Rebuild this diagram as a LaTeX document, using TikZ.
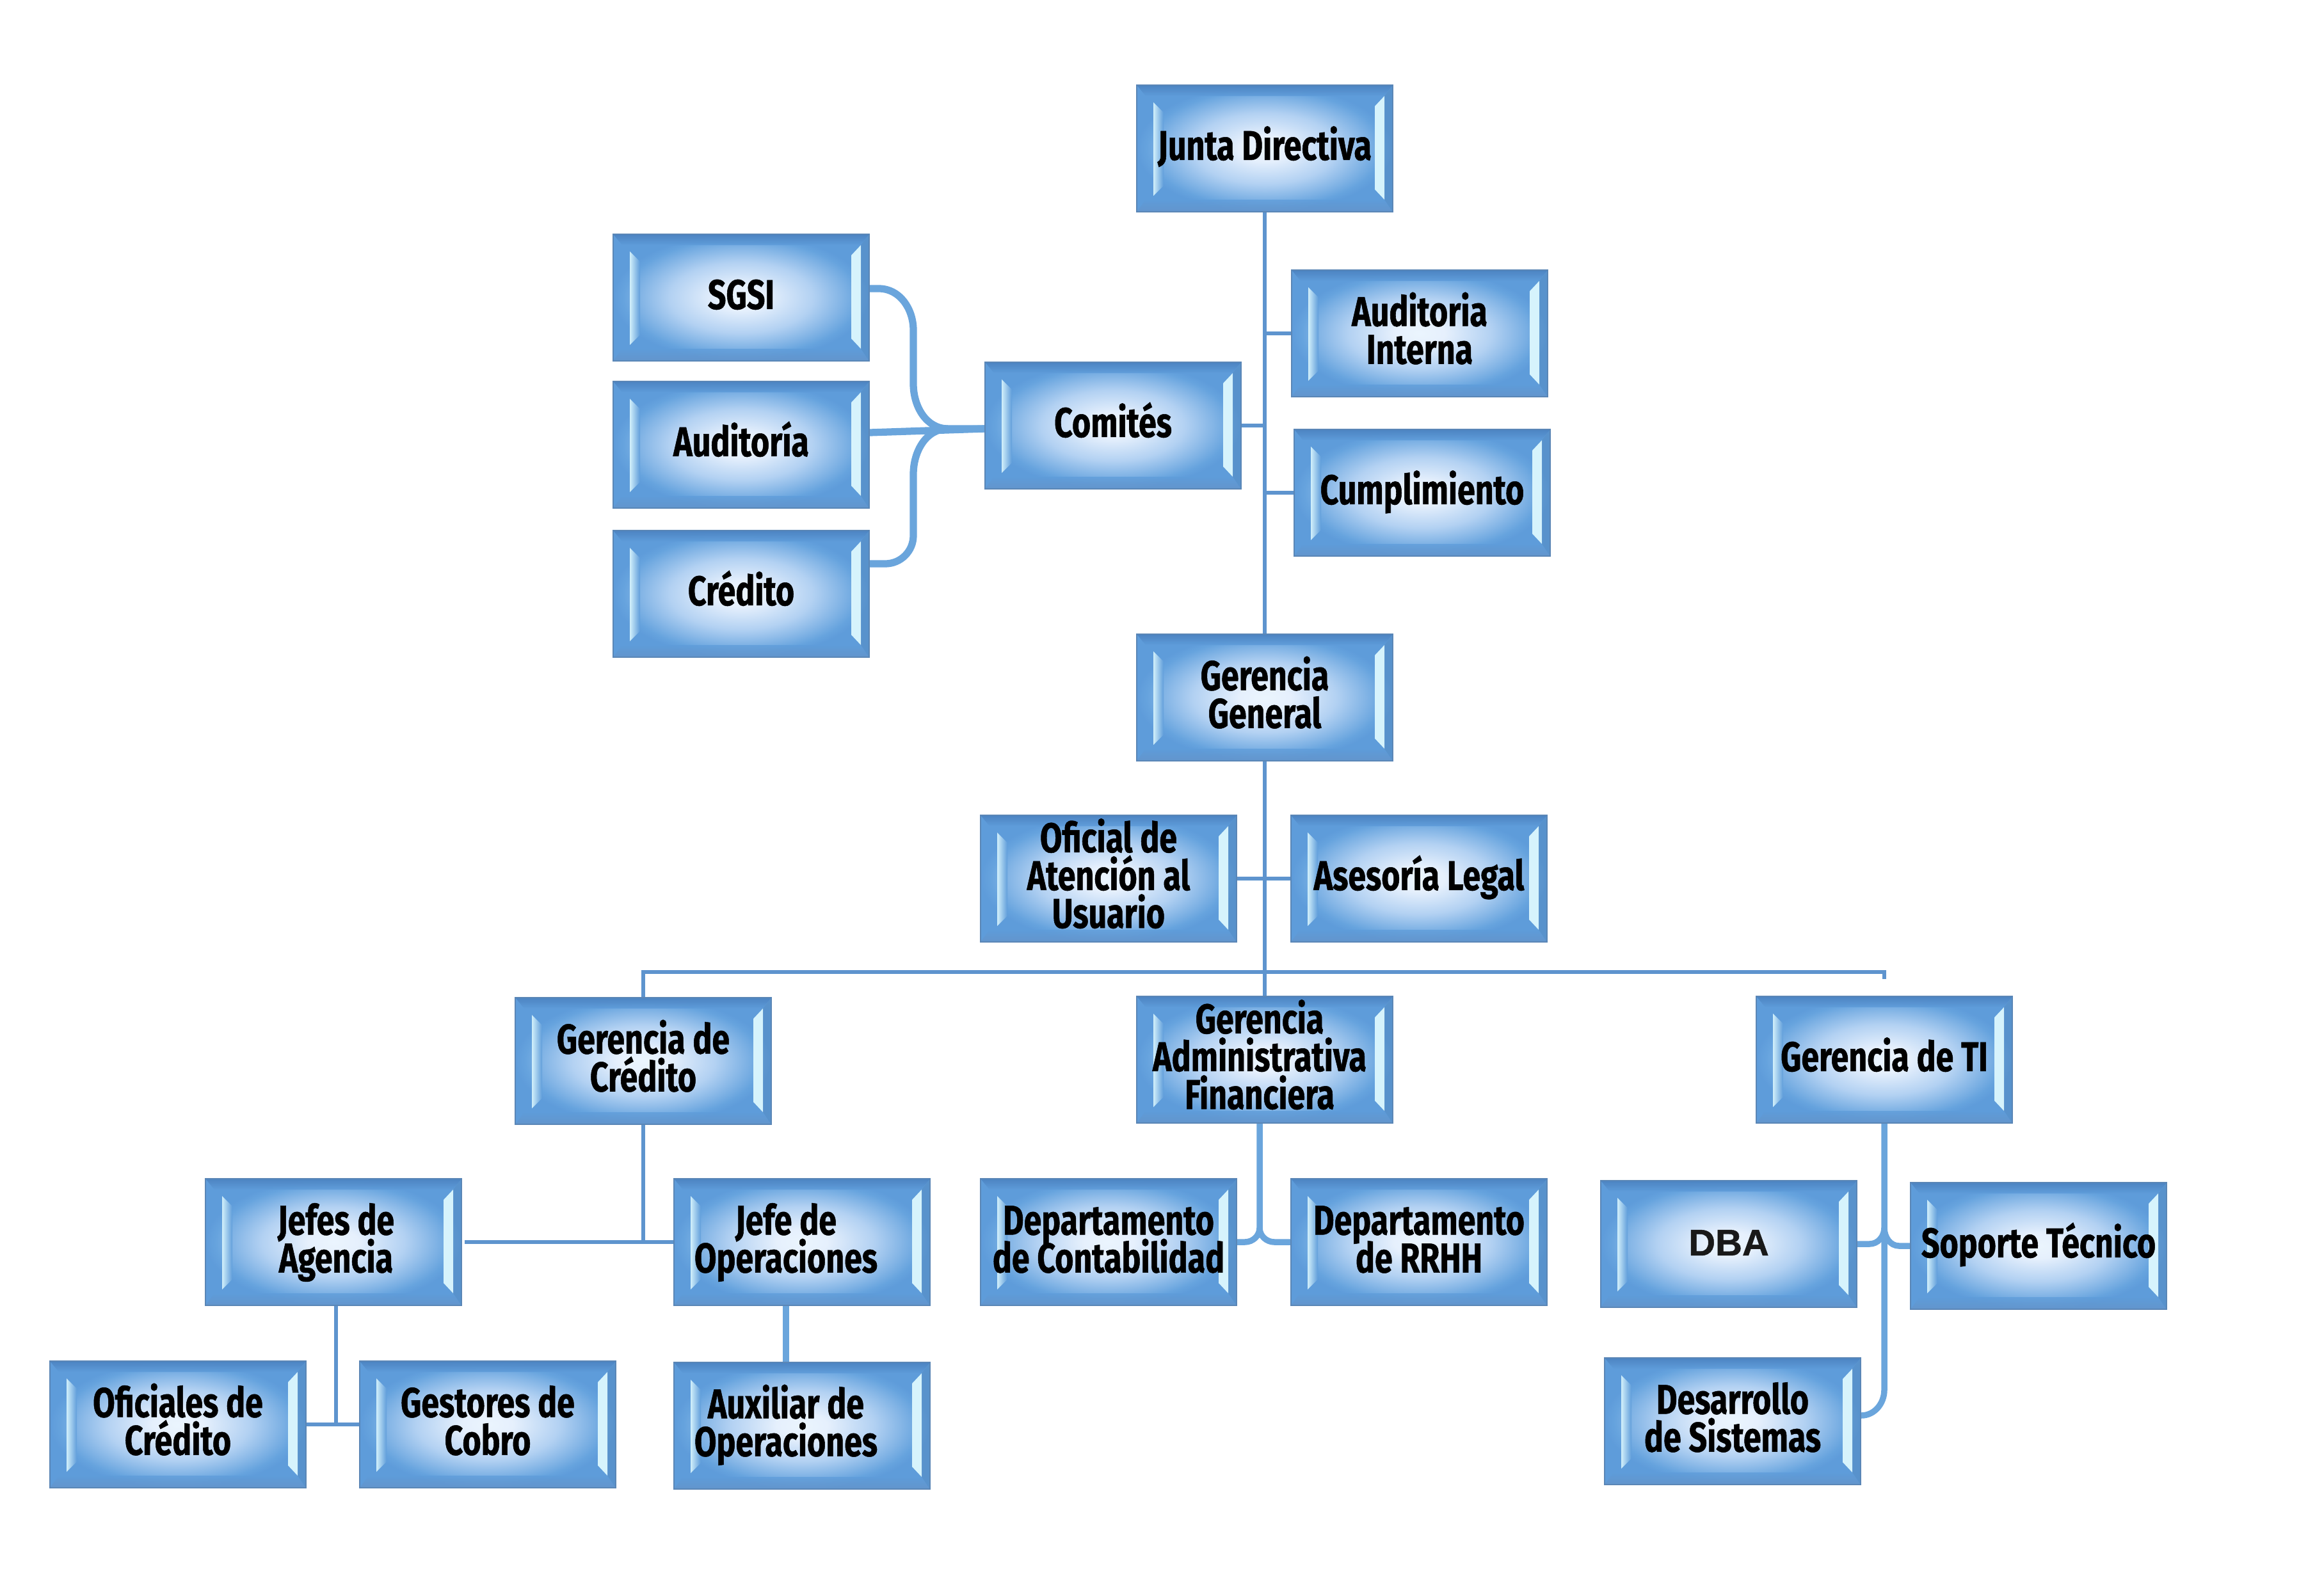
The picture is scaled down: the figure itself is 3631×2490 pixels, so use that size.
\documentclass[tikz,border=0pt]{standalone}
\usepackage{fontspec}
\usetikzlibrary{calc,backgrounds}
\newfontfamily\boxfont[FakeStretch=0.77, BoldFeatures={FakeBold=0.8}]{Fira Sans}
\newfontfamily\dbafont[BoldFeatures={FakeBold=0.8}]{Liberation Sans}
\definecolor{faceout}{HTML}{5E9CDA}
\definecolor{edgecol}{HTML}{5A86B6}
\definecolor{bandcol}{HTML}{4A80BE}
\definecolor{bevlight}{HTML}{DDF8FE}
\definecolor{linecol}{HTML}{6AA5DC}
\definecolor{thincol}{HTML}{5E94CE}
\pgfdeclareradialshading{boxface}{\pgfpoint{0bp}{0bp}}{rgb(0bp)=(0.92,0.96,0.995); rgb(5bp)=(0.90,0.94,0.99); rgb(14bp)=(0.70,0.82,0.95); rgb(23bp)=(0.40,0.64,0.87); rgb(25bp)=(0.37,0.61,0.855); rgb(50bp)=(0.37,0.61,0.855)}
\tikzset{
  orgbox/.style={
    minimum width=4cm, minimum height=1.98cm, inner sep=0pt, align=center,
    font=\boxfont\bfseries\fontsize{18.5pt}{16.8pt}\selectfont,
    text=black
  },
  thinln/.style={draw=thincol, line width=1.7pt},
  thickln/.style={draw=linecol, line width=3.2pt},
  medln/.style={draw=linecol, line width=2.7pt},
}
\newcommand\topstrut{\rule{0pt}{16pt}}
\newcommand\botstrut{\rule[-5.8pt]{0pt}{5.8pt}}
% draws the bevelled face of a box at position #3, then the named node (its text) on top
\newcommand\orgnode[4][]{%
  \begin{scope}[shift={(#3)}]
    \shade[shading=boxface] (-200,-99) rectangle (200,99);
    \shade[top color=bandcol, bottom color=faceout, opacity=.85] (-200,-99) -- (200,-99) -- (186,-82) -- (-186,-82) -- cycle;
    \shade[top color=faceout, bottom color=bandcol!85!white, opacity=.75] (-186,80) -- (186,80) -- (200,99) -- (-200,99) -- cycle;
    \shade[left color=bevlight, right color=faceout, opacity=.9] (-174,-72) -- (-158,-56) -- (-158,58) -- (-174,74) -- cycle;
    \fill[bevlight, opacity=.95] (172,-66) -- (187,-82) -- (187,80) -- (172,64) -- cycle;
    \fill[faceout!80!black, opacity=.3] (187,-82) -- (200,-99) -- (200,99) -- (187,80) -- cycle;
    \draw[edgecol, line width=0.8pt] (-200,-99) rectangle (200,99);
  \end{scope}
  \node[orgbox,#1] (#2) at (#3) {\topstrut#4\botstrut};
}
\begin{document}
\lineskiplimit=-60pt
\begin{tikzpicture}[x=0.01cm, y=-0.01cm]
\useasboundingbox (0,0) rectangle (3631,2490);

\orgnode{jd}{1976,232}{Junta Directiva}
\orgnode{sgsi}{1158,465}{SGSI}
\orgnode{aud}{1158,695}{Auditoría}
\orgnode{cre}{1158,928}{Crédito}
\orgnode{com}{1739,665}{Comités}
\orgnode{ai}{2218,521}{Auditoria\\Interna}
\orgnode{cum}{2222,770}{Cumplimiento}
\orgnode{gg}{1976,1090}{Gerencia\\General}
\orgnode{of}{1732,1373}{Oficial de\\Atención al\\Usuario}
\orgnode{al}{2217,1373}{Asesoría Legal}
\orgnode{gc}{1005,1658}{Gerencia de\\Crédito}
\orgnode[xshift=-0.08cm]{gaf}{1976,1656}{Gerencia\\Administrativa\\Financiera}
\orgnode{gti}{2944,1656}{Gerencia de TI}
\orgnode[xshift=0.04cm]{ja}{521,1941}{Jefes de\\Agencia}
\orgnode[xshift=-0.25cm]{jo}{1253,1941}{Jefe de\\Operaciones}
\orgnode{oc}{278,2226}{Oficiales de\\Crédito}
\orgnode{gco}{762,2226}{Gestores de\\Cobro}
\orgnode[xshift=-0.25cm]{aux}{1253,2228}{Auxiliar de\\Operaciones}
\orgnode{con}{1732,1941}{Departamento\\de Contabilidad}
\orgnode{rrhh}{2217,1941}{Departamento\\de RRHH}
\orgnode[font=\dbafont\bfseries\fontsize{16.5pt}{16pt}\selectfont, text=black!90]{dba}{2701,1944}{DBA}
\orgnode{sop}{3185,1947}{Soporte Técnico}
\orgnode{ds}{2707,2221}{Desarrollo\\de Sistemas}

\coordinate (busy) at (0,1519);

\begin{scope}[on background layer]
  % top spine
  \draw[thinln] (jd.south) -- (gg.north);
  \draw[thinln] (ai.west) -- (ai.west -| jd.south);
  \draw[thinln] (cum.west) -- (cum.west -| jd.south);
  \draw[thinln] (com.east) -- (com.east -| jd.south);
  % committees brace
  \coordinate (tip) at ($(com.west)+(-57,5)$);
  \draw[thickln] ($(sgsi.east)+(0,-14)$) -- (1373,451) to[out=0,in=90] (1427,516) -- (1427,600) to[out=-90,in=180] (tip) -- ($(com.west)+(0,5)$);
  \draw[thickln] ($(cre.east)+(0,-47)$) -- (1383,881) to[out=0,in=-90] (1427,837) -- (1427,741) to[out=90,in=180] (tip);
  \draw[thickln] ($(aud.east)+(0,-19)$) -- ($(com.west)+(0,5)$);
  % general management
  \draw[thinln] (gg.south) -- (gg.south |- gaf.north);
  \draw[thinln] (of.east) -- (al.west);
  \draw[thinln] (gc.north) -- (gc.north |- busy) -- (gti.north |- busy) -- ($(gti.north)+(0,-26)$);
  % credit branch
  \draw[thinln] (gc.south) -- (gc.south |- ja.east);
  \draw[thinln] (ja.east) -- ($(jo.west)+(27,0)$);
  \draw[thinln] (ja.south) -- (ja.south |- oc.east);
  \draw[thinln] (oc.east) -- (gco.west);
  \draw[medln] (jo.south) -- (aux.north);
  % administrative branch
  \coordinate (gaft) at ($(gaf.south)+(0,163)$);
  \draw[medln] (gaf.south) -- (gaft) to[out=-90,in=0] ($(con.east)+(12,0)$) -- (con.east);
  \draw[medln] (gaft) to[out=-90,in=180] ($(rrhh.west)+(-25,0)$) -- (rrhh.west);
  % IT branch
  \coordinate (gtit) at ($(gti.south)+(0,163)$);
  \draw[medln] (gti.south) -- ($(gti.south |- ds.east)+(0,-49)$) to[out=-90,in=0] ($(ds.east)+(0,-9)$);
  \draw[medln] (gtit) to[out=-90,in=0] ($(dba.east)+(19,0)$) -- (dba.east);
  \draw[medln] (gtit) to[out=-90,in=180] ($(sop.west)+(-17,0)$) -- (sop.west);
\end{scope}
\end{tikzpicture}
\end{document}
